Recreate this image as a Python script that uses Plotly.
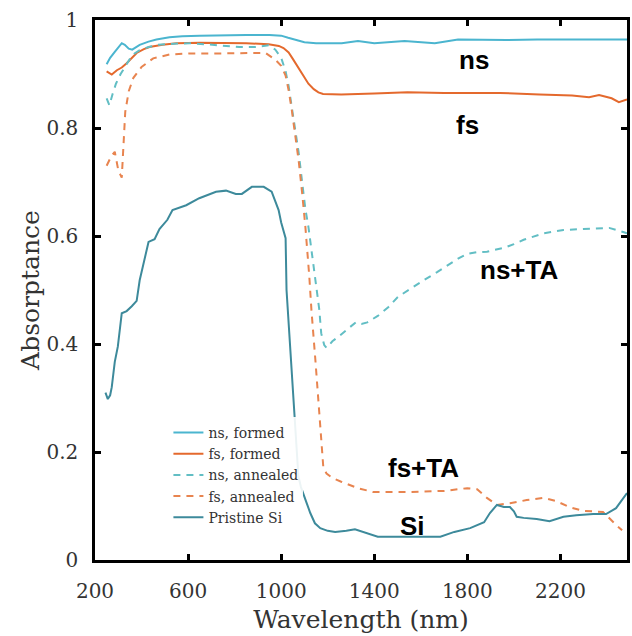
import plotly.graph_objects as go

# ---- spectra (wavelength in nm, absorptance 0..1) ----
ns_formed_wl = [250, 265, 285, 300, 315, 328, 345, 360, 392, 430, 464, 520, 575, 650, 750, 850,
                950, 1000, 1030, 1060, 1100, 1150, 1200, 1260, 1330, 1400, 1530, 1660, 1760, 1850,
                1970, 2100, 2250, 2400, 2486]
ns_formed_abs = [0.918, 0.930, 0.941, 0.950, 0.957, 0.954, 0.947, 0.945, 0.954, 0.960, 0.964, 0.968,
                 0.970, 0.971, 0.972, 0.972, 0.972, 0.971, 0.967, 0.963, 0.959, 0.957, 0.957, 0.957,
                 0.961, 0.957, 0.961, 0.957, 0.964, 0.963, 0.963, 0.964, 0.964, 0.964, 0.964]

fs_formed_wl = [250, 272, 294, 315, 336, 360, 379, 410, 434, 490, 550, 650, 750, 850, 946, 990, 1010,
                1032, 1050, 1074, 1095, 1117, 1140, 1160, 1180, 1258, 1400, 1543, 1700, 1940, 2110,
                2250, 2323, 2366, 2420, 2451, 2486]
fs_formed_abs = [0.905, 0.899, 0.907, 0.912, 0.920, 0.930, 0.939, 0.946, 0.950, 0.954, 0.957, 0.958,
                 0.958, 0.957, 0.955, 0.952, 0.948, 0.940, 0.928, 0.912, 0.896, 0.882, 0.872, 0.866,
                 0.863, 0.862, 0.864, 0.866, 0.865, 0.865, 0.862, 0.860, 0.857, 0.861, 0.855, 0.848,
                 0.853]

ns_annealed_wl = [250, 262, 275, 290, 310, 330, 350, 370, 392, 430, 470, 540, 605, 680, 746, 820, 891,
                  946, 975, 1000, 1019, 1032, 1045, 1060, 1075, 1090, 1104, 1117, 1132, 1147, 1164,
                  1172, 1185, 1195, 1220, 1250, 1290, 1320, 1345, 1370, 1415, 1460, 1501, 1560, 1616,
                  1670, 1714, 1760, 1799, 1840, 1884, 1957, 2000, 2042, 2127, 2213, 2298, 2409, 2473,
                  2486]
ns_annealed_abs = [0.855, 0.842, 0.862, 0.882, 0.900, 0.915, 0.928, 0.938, 0.944, 0.950, 0.954, 0.956,
                   0.957, 0.955, 0.952, 0.950, 0.950, 0.953, 0.945, 0.930, 0.905, 0.878, 0.840, 0.800,
                   0.755, 0.700, 0.650, 0.617, 0.570, 0.524, 0.463, 0.420, 0.398, 0.393, 0.405, 0.415,
                   0.430, 0.440, 0.437, 0.440, 0.452, 0.468, 0.487, 0.504, 0.519, 0.533, 0.546, 0.558,
                   0.567, 0.570, 0.571, 0.578, 0.585, 0.593, 0.605, 0.611, 0.613, 0.615, 0.607, 0.605]

fs_annealed_wl = [250, 270, 285, 300, 315, 322, 330, 345, 365, 400, 450, 520, 605, 700, 800, 891, 933,
                  976, 1000, 1019, 1032, 1045, 1060, 1075, 1090, 1104, 1121, 1130, 1147, 1160, 1168,
                  1181, 1195, 1220, 1258, 1330, 1394, 1480, 1556, 1701, 1799, 1842, 1884, 1927, 1983,
                  2055, 2127, 2183, 2238, 2298, 2383, 2439, 2465]
fs_annealed_abs = [0.730, 0.748, 0.756, 0.722, 0.708, 0.760, 0.830, 0.868, 0.893, 0.913, 0.929, 0.936,
                   0.938, 0.938, 0.938, 0.938, 0.939, 0.926, 0.915, 0.897, 0.870, 0.835, 0.790, 0.740,
                   0.680, 0.617, 0.524, 0.463, 0.370, 0.290, 0.246, 0.172, 0.160, 0.152, 0.145, 0.133,
                   0.126, 0.126, 0.126, 0.128, 0.133, 0.131, 0.115, 0.102, 0.105, 0.111, 0.115, 0.109,
                   0.098, 0.091, 0.089, 0.065, 0.055]

si_wl = [245, 255, 265, 272, 285, 298, 315, 336, 358, 379, 392, 413, 430, 456, 477, 511, 533, 592, 648,
         720, 763, 805, 831, 874, 925, 959, 989, 1000, 1012, 1019, 1023, 1032, 1040, 1050, 1061, 1074,
         1085, 1095, 1110, 1125, 1145, 1168, 1200, 1232, 1280, 1317, 1345, 1373, 1415, 1550, 1684,
         1744, 1812, 1872, 1897, 1927, 1957, 1983, 2000, 2012, 2042, 2098, 2153, 2213, 2268, 2341,
         2396, 2439, 2469, 2486]
si_abs = [0.310, 0.298, 0.305, 0.320, 0.367, 0.395, 0.457, 0.461, 0.470, 0.480, 0.518, 0.556, 0.589,
          0.594, 0.613, 0.630, 0.648, 0.657, 0.670, 0.682, 0.684, 0.678, 0.678, 0.691, 0.691, 0.682,
          0.648, 0.625, 0.605, 0.596, 0.500, 0.440, 0.370, 0.310, 0.250, 0.155, 0.135, 0.124, 0.105,
          0.087, 0.068, 0.059, 0.054, 0.052, 0.054, 0.057, 0.053, 0.050, 0.043, 0.043, 0.043, 0.052,
          0.059, 0.070, 0.087, 0.102, 0.098, 0.098, 0.090, 0.080, 0.078, 0.076, 0.072, 0.080, 0.083,
          0.085, 0.085, 0.096, 0.115, 0.124]

x_ticks = [200, 600, 1000, 1400, 1800, 2200]
y_ticks = [0, 0.2, 0.4, 0.6, 0.8, 1]
y_tick_text = ["0", "0.2", "0.4", "0.6", "0.8", "1"]

# ---- curve labels (text, wavelength, absorptance) ----
label_text = ["ns", "fs", "ns+TA", "fs+TA", "Si"]
label_wl = [1830, 1800, 2020, 1612, 1565]
label_abs = [0.926, 0.805, 0.537, 0.170, 0.063]

SERIF = "DejaVu Serif"

fig = go.Figure()
series = [
    ("ns, formed", ns_formed_wl, ns_formed_abs, "#4BB5CF", "solid"),
    ("fs, formed", fs_formed_wl, fs_formed_abs, "#E4692D", "solid"),
    ("ns, annealed", ns_annealed_wl, ns_annealed_abs, "#62BEC4", "7px,6px"),
    ("fs, annealed", fs_annealed_wl, fs_annealed_abs, "#E8844F", "7px,6px"),
    ("Pristine Si", si_wl, si_abs, "#3D8A9B", "solid"),
]
for name, wl, ab, color, dash in series:
    fig.add_trace(go.Scatter(x=wl, y=ab, mode="lines", name=name,
                             line=dict(color=color, width=2, dash=dash)))

for t, xw, ya in zip(label_text, label_wl, label_abs):
    fig.add_annotation(x=xw, y=ya, text=f"<b>{t}</b>", showarrow=False,
                       font=dict(family="Liberation Sans", size=26, color="black"))

axis_common = dict(showline=True, linecolor="black", linewidth=2.5, mirror="ticks",
                   ticks="inside", ticklen=6, tickwidth=2.5, tickcolor="black",
                   showgrid=False, zeroline=False,
                   tickfont=dict(family=SERIF, size=20, color="#333"))

fig.update_xaxes(range=[200, 2486], tickvals=x_ticks, ticklabelstandoff=11,
                 title=dict(text="Wavelength (nm)", font=dict(family=SERIF, size=25, color="#333"),
                            standoff=9),
                 **axis_common)
fig.update_yaxes(range=[0, 1], tickvals=y_ticks, ticktext=y_tick_text, ticklabelstandoff=10,
                 title=dict(text="Absorptance", font=dict(family=SERIF, size=25, color="#333"),
                            standoff=0),
                 **axis_common)

fig.update_layout(
    width=632, height=636,
    margin=dict(l=95, r=2, t=20, b=76),
    plot_bgcolor="white", paper_bgcolor="white",
    legend=dict(x=0.138, y=0.265, xanchor="left", yanchor="top",
                bgcolor="rgba(255,255,255,0.9)", borderwidth=0,
                font=dict(family=SERIF, size=14, color="#333"),
                tracegroupgap=0),
)

fig.write_html("out.html")
